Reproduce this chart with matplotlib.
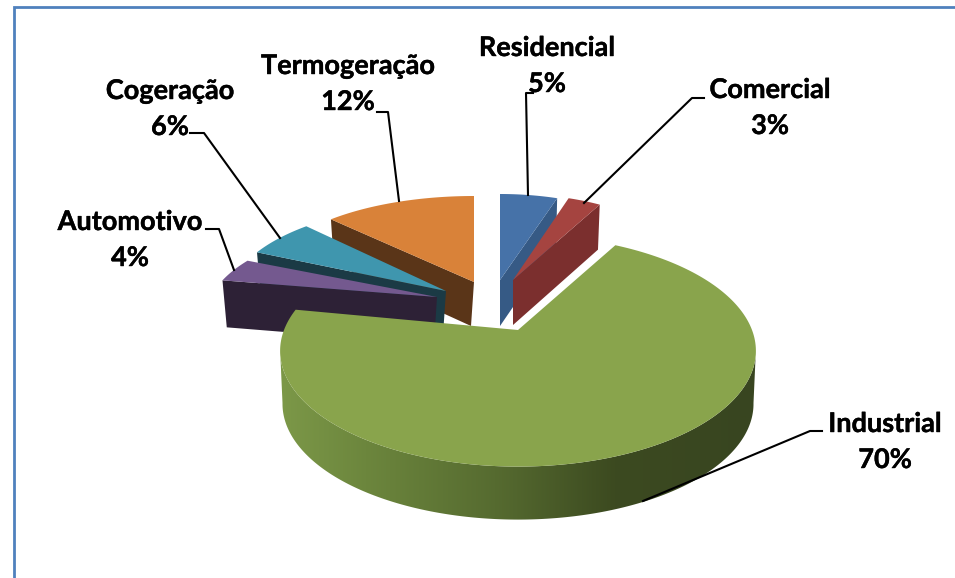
import numpy as np
import matplotlib.pyplot as plt
import matplotlib.patheffects as pe
from matplotlib.colors import LinearSegmentedColormap
from matplotlib.patches import Polygon

""" Exploded 3D style pie chart, drawn by hand because matplotlib has no 3D pie """

# Data
categories = ['Residencial', 'Comercial', 'Industrial', 'Automotivo', 'Cogeração', 'Termogeração']
shares = [5, 3, 70, 4, 6, 12]

plt.rcParams['font.family'] = ['Lato', 'DejaVu Sans']

# Colours (top face, side wall)
top_colors = ['#4672a8', '#a54440', '#89a44c', '#74598f', '#3f96ae', '#d98239']
wall_colors = ['#365a85', '#7b2f2e', '#35431c', '#2d2136', '#1b3a45', '#5a3518']

# Slice layout in pixels: tip x, tip y, radius x, radius y, wall height, perspective
layout = {
    'Residencial': (500, 280, 185, 86, 46, 0),
    'Comercial': (513, 280, 180, 86, 45, 0),
    'Industrial': (518, 330, 234, 112, 53, 0.18),
    'Automotivo': (437, 297, 226, 92, 47, 0.186),
    'Cogeração': (446, 291, 216, 94, 44, 0.08),
    'Termogeração': (474, 282, 209, 86, 44, 0),
}

# Label centre (x, y of the first line) and leader line points
label_pos = {
    'Residencial': (547, 48),
    'Comercial': (770, 90),
    'Industrial': (885, 424),
    'Automotivo': (130, 222),
    'Cogeração': (170, 91),
    'Termogeração': (348, 66),
}
leaders = {
    'Residencial': [(533, 93), (526, 93), (528, 195)],
    'Comercial': [(704, 98), (692, 98), (584, 203)],
    'Industrial': [(822, 431), (810, 431), (643, 501)],
    'Automotivo': [(206, 229), (219, 229), (234, 270)],
    'Cogeração': [(190, 133), (204, 133), (280, 238)],
    'Termogeração': [(377, 112), (388, 112), (399, 201)],
}

# Slices drawn back to front
draw_order = ['Termogeração', 'Cogeração', 'Automotivo', 'Industrial', 'Residencial', 'Comercial']


def project(name, theta, scale=1.0, drop=0):
    # theta in degrees, clockwise from the top of the pie
    x0, y0, rx, ry, h, k = layout[name]
    t = np.radians(theta)
    u, v = np.sin(t), np.cos(t)
    s = 1 / (1 + k * v)
    return x0 + rx * scale * u * s, y0 - ry * v * s + drop


# Slice angles come from the shares
ends = np.cumsum(shares) / sum(shares) * 360
starts = ends - np.array(shares) / sum(shares) * 360

fig = plt.figure(figsize=(9.55, 5.78), dpi=100)
ax = fig.add_axes([0, 0, 1, 1])
ax.axis('off')

# Outer frame
ax.plot([14, 14, 955], [578, 7, 7], color='#4f81bd', linewidth=2, solid_joinstyle='miter')

green_wall = LinearSegmentedColormap.from_list(
    'green_wall', [(0, '#7c9848'), (0.18, '#6c863d'), (0.45, '#566b30'), (0.7, '#3c4a20'), (1, '#384520')])

for order, name in enumerate(draw_order):
    i = categories.index(name)
    a, b = starts[i], ends[i]
    x0, y0, rx, ry, h, k = layout[name]
    thetas = np.linspace(a, b, 300)
    z = order * 2 + 1

    if name == 'Industrial':
        # Rim wall, a left to right gradient clipped to the wall outline
        # only the front of the rim shows, between the two widest points
        front = np.linspace(100, 260, 300)
        xs, ys = project(name, front)
        xb, yb = project(name, front, scale=0.99, drop=h)
        wall = Polygon(np.column_stack([np.concatenate([xs, xb[::-1]]), np.concatenate([ys, yb[::-1]])]),
                       facecolor='none', edgecolor='none', transform=ax.transData)
        ax.add_patch(wall)
        im = ax.imshow(np.linspace(0, 1, 256).reshape(1, -1), cmap=green_wall, extent=(280, 757, 530, 300),
                       aspect='auto', zorder=z)
        im.set_clip_path(wall)
    else:
        # Cut wall, on the side of the slice that faces the viewer
        cut = b if a < 180 else a
        xc, yc = project(name, cut)
        xd, yd = project(name, cut, scale=0.98, drop=h)
        ax.add_patch(Polygon([(x0, y0), (xc, yc), (xd, yd), (x0 - (3 if a > 180 else 0), y0 + h)],
                             facecolor=wall_colors[i], edgecolor='none', zorder=z))

    xs, ys = project(name, thetas)
    top = np.column_stack([np.concatenate([[x0], xs]), np.concatenate([[y0], ys])])
    ax.add_patch(Polygon(top, facecolor=top_colors[i], edgecolor='none', zorder=z + 1))

ax.set_xlim(0, 955)
ax.set_ylim(578, 0)

# Labels and leader lines
heavy = [pe.withStroke(linewidth=0.3, foreground='black')]
for name, share in zip(categories, shares):
    lx, ly = label_pos[name]
    ax.text(lx, ly, name, ha='center', va='center', fontsize=19.5, fontweight='bold', color='black',
            zorder=30, path_effects=heavy)
    ax.text(lx, ly + 36, f'{share}%', ha='center', va='center', fontsize=19.5, fontweight='bold', color='black',
            zorder=30, path_effects=heavy)
    pts = np.array(leaders[name])
    ax.plot(pts[:, 0], pts[:, 1], color='black', linewidth=1.5, zorder=29)

plt.savefig('out.png', dpi=100)
